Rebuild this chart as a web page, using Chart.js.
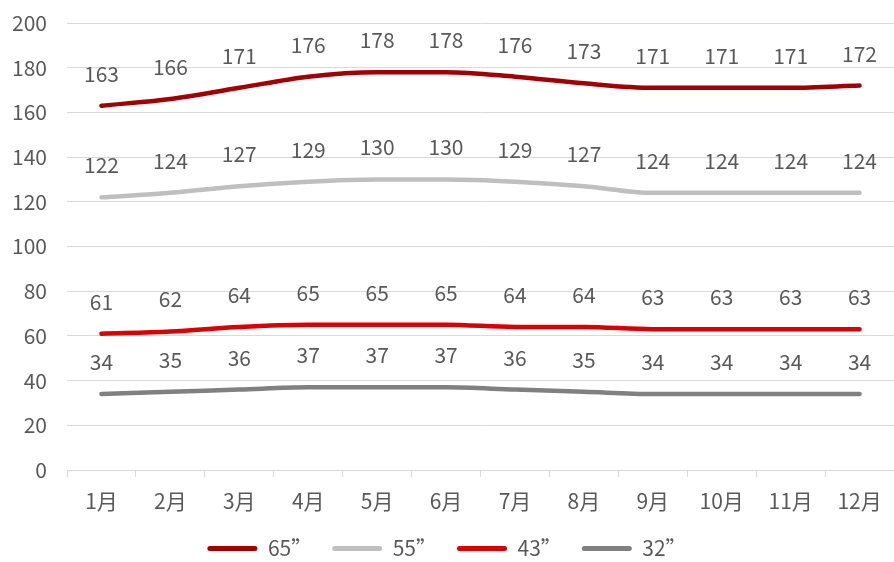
<!DOCTYPE html>
<html>
<head>
<meta charset="utf-8">
<script src="https://cdn.jsdelivr.net/npm/chart.js@4/dist/chart.umd.min.js"></script>
<style>
  html, body { margin: 0; padding: 0; background: #fff; }
  #wrap { width: 894px; height: 562px; position: relative; }
</style>
</head>
<body>
<div id="wrap"><canvas id="sizeChart"></canvas></div>
<script>
// 月份
const months = ['1月', '2月', '3月', '4月', '5月', '6月', '7月', '8月', '9月', '10月', '11月', '12月'];
// 各尺寸数值
const size65 = [163, 166, 171, 176, 178, 178, 176, 173, 171, 171, 171, 172];
const size55 = [122, 124, 127, 129, 130, 130, 129, 127, 124, 124, 124, 124];
const size43 = [61, 62, 64, 65, 65, 65, 64, 64, 63, 63, 63, 63];
const size32 = [34, 35, 36, 37, 37, 37, 36, 35, 34, 34, 34, 34];
const seriesNames = ['65”', '55”', '43”', '32”'];
const yTicks = [0, 20, 40, 60, 80, 100, 120, 140, 160, 180, 200];

const FONT = "'Noto Sans CJK SC', 'Noto Sans', sans-serif";
const TEXT = '#595959';

// 数据标签（在点的上方）
const pointLabels = {
  id: 'pointLabels',
  afterDatasetsDraw(chart) {
    const ctx = chart.ctx;
    ctx.save();
    ctx.font = '21px ' + FONT;
    ctx.fillStyle = TEXT;
    ctx.textAlign = 'center';
    ctx.textBaseline = 'middle';
    chart.data.datasets.forEach((ds, i) => {
      const meta = chart.getDatasetMeta(i);
      meta.data.forEach((pt, j) => {
        ctx.fillText(String(ds.data[j]), pt.x, pt.y - 32);
      });
    });
    ctx.restore();
  }
};

function makeSet(label, data, color) {
  return {
    label: label,
    data: data,
    borderColor: color,
    backgroundColor: color,
    borderWidth: 4.5,
    borderCapStyle: 'round',
    pointRadius: 0,
    cubicInterpolationMode: 'monotone',
    fill: false
  };
}

const ctx = document.getElementById('sizeChart').getContext('2d');
new Chart(ctx, {
  type: 'line',
  data: {
    labels: months,
    datasets: [
      makeSet(seriesNames[0], size65, '#A00000'),
      makeSet(seriesNames[1], size55, '#BFBFBF'),
      makeSet(seriesNames[2], size43, '#D90000'),
      makeSet(seriesNames[3], size32, '#808080')
    ]
  },
  options: {
    responsive: true,
    maintainAspectRatio: false,
    animation: false,
    layout: {
      padding: { left: 0, right: 0, top: 23, bottom: -7 }
    },
    plugins: {
      tooltip: { enabled: false },
      legend: {
        position: 'bottom',
        labels: {
          boxWidth: 50,
          boxHeight: 5,
          padding: 20,
          useBorderRadius: true,
          borderRadius: 2.5,
          color: TEXT,
          font: { size: 21, family: FONT },
          generateLabels: function (chart) {
            const items = Chart.defaults.plugins.legend.labels.generateLabels(chart);
            items.forEach(it => { it.lineWidth = 0; });
            return items;
          }
        }
      }
    },
    scales: {
      x: {
        offset: true,
        afterFit: (axis) => { axis.height = 48; },
        grid: {
          offset: true,
          drawOnChartArea: false,
          drawTicks: true,
          tickLength: 7,
          color: '#D9D9D9'
        },
        border: { display: true, color: '#D9D9D9', width: 1 },
        ticks: {
          color: TEXT,
          padding: 11,
          maxRotation: 0,
          font: { size: 21, family: FONT }
        }
      },
      y: {
        min: 0,
        max: 200,
        afterBuildTicks: (axis) => { axis.ticks = yTicks.map(v => ({ value: v })); },
        afterFit: (axis) => {
          axis.width = 67;
          axis.paddingTop = 0;
          axis.paddingBottom = 0;
        },
        grid: {
          color: '#D9D9D9',
          lineWidth: 1,
          drawTicks: false
        },
        border: { display: false },
        ticks: {
          color: TEXT,
          padding: 20,
          font: { size: 21, family: FONT }
        }
      }
    }
  },
  plugins: [pointLabels]
});
</script>
</body>
</html>
